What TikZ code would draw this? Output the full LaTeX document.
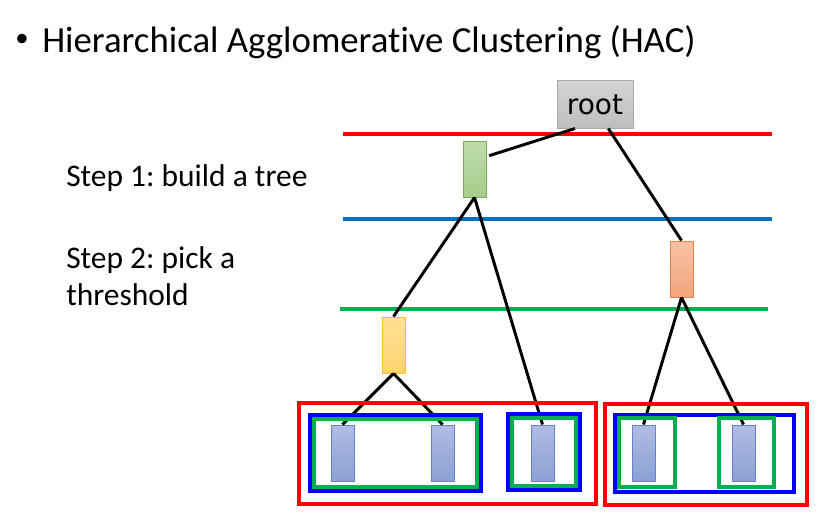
\documentclass[tikz,border=0pt]{standalone}
\usepackage{fontspec}
\setmainfont{Carlito}[RawFeature=-liga]
\newfontfamily\rootfont{DejaVu Sans}
\definecolor{tblue}{HTML}{0070C0}
\definecolor{tgreen}{HTML}{00B050}
\definecolor{boxblue}{HTML}{0000FF}
\frenchspacing
\begin{document}
\begin{tikzpicture}[x=0.75pt,y=-0.75pt,
  bar/.style={rectangle,minimum width=17.25pt,minimum height=42pt,inner sep=0pt,line width=0.75pt},
  leaf/.style={bar,top color={rgb,255:red,176;green,188;blue,226},bottom color={rgb,255:red,140;green,160;blue,212},draw={rgb,255:red,100;green,130;blue,200}},
  gnode/.style={bar,top color={rgb,255:red,190;green,220;blue,170},bottom color={rgb,255:red,165;green,205;blue,140},draw={rgb,255:red,120;green,175;blue,80}},
  onode/.style={bar,top color={rgb,255:red,247;green,195;blue,165},bottom color={rgb,255:red,242;green,165;blue,125},draw={rgb,255:red,235;green,130;blue,70}},
  ynode/.style={bar,top color={rgb,255:red,255;green,224;blue,150},bottom color={rgb,255:red,255;green,212;blue,110},draw={rgb,255:red,255;green,195;blue,20}},
  edge/.style={line width=2.2pt,black},
  hline/.style={line width=3pt},
  grp/.style={line width=3pt},
  steptext/.style={anchor=base west,font=\fontsize{23.6}{28}\selectfont,inner sep=0pt}]
\useasboundingbox (0,0) rectangle (832,519);
% title
\node[anchor=center,font=\fontsize{20}{24}\selectfont,inner sep=0pt] (bul) at (22,40) {\textbullet};
\node[anchor=base west,font=\fontsize{27.6}{32}\selectfont,inner sep=0pt] (title) at (42,52) {Hierarchical Agglomerative Clustering (HAC)};
% step labels
\node[steptext] (s1) at (66,186) {Step 1: build a tree};
\node[steptext] (s2a) at (66,268) {Step 2: pick a};
\node[steptext] (s2b) at (66,305) {threshold};
% threshold lines
\coordinate (r1) at (343,134); \coordinate (r2) at (772,134);
\coordinate (b1) at (343,219); \coordinate (b2) at (772,219);
\coordinate (g1) at (340,309); \coordinate (g2) at (768,309);
\draw[hline,red] (r1) -- (r2);
\draw[hline,tblue] (b1) -- (b2);
\draw[hline,tgreen] (g1) -- (g2);
% nodes
\node[rectangle,minimum width=57pt,minimum height=36pt,inner sep=0pt,top color={rgb,255:red,212;green,212;blue,212},bottom color={rgb,255:red,190;green,190;blue,190},draw={rgb,255:red,170;green,170;blue,170},line width=0.75pt] (root) at (595,104) {};
\node[anchor=base,font=\rootfont\fontsize{21}{24}\selectfont,inner sep=0pt] (roottext) at (595,114) {root};
\node[gnode] (gn) at (474.5,169) {};
\node[onode] (on) at (681.5,269) {};
\node[ynode] (yn) at (393.5,345) {};
\node[leaf] (l1) at (342.5,453) {};
\node[leaf] (l2) at (442.5,453) {};
\node[leaf] (l3) at (542.5,453) {};
\node[leaf] (l4) at (643.5,453) {};
\node[leaf] (l5) at (743.5,453) {};
% edges
\draw[edge] ([xshift=-15pt]root.south) -- ([xshift=2pt,yshift=10pt]gn.east);
\draw[edge] ([xshift=10pt]root.south) -- (on.north);
\draw[edge] (gn.south) -- (yn.north);
\draw[edge] (gn.south) -- (l3.north);
\draw[edge] (on.south) -- (l4.north);
\draw[edge] (on.south) -- (l5.north);
\draw[edge] (yn.south) -- (l1.north);
\draw[edge] (yn.south) -- (l2.north);
% cluster boxes
\draw[grp,red] (299,403) rectangle (596,504);
\draw[grp,red] (605,404) rectangle (807,505);
\draw[grp,boxblue] (310,415) rectangle (481,491);
\draw[grp,tgreen] (314,419) rectangle (477,487);
\draw[grp,boxblue] (508,414) rectangle (580,490);
\draw[grp,tgreen] (512,418) rectangle (576,486);
\draw[grp,boxblue] (615,415) rectangle (794,492);
\draw[grp,tgreen] (619,418) rectangle (675,487);
\draw[grp,tgreen] (719,418) rectangle (774,487);
\end{tikzpicture}
\end{document}
